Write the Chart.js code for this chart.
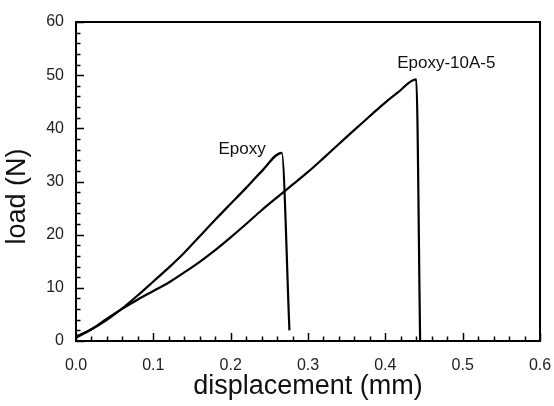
<!DOCTYPE html>
<html>
<head>
<meta charset="utf-8">
<script src="https://cdn.jsdelivr.net/npm/chart.js@4"></script>
<style>
  html, body { margin: 0; padding: 0; background: #fff; }
  #wrap { width: 554px; height: 406px; }
</style>
</head>
<body>
<div id="wrap"><canvas id="loadChart"></canvas></div>
<script>
// ============================== DATA ==============================
const epoxyX = [0, 0.02, 0.04, 0.057, 0.08, 0.10, 0.12, 0.14, 0.16, 0.18, 0.20, 0.22, 0.24, 0.266, 0.276];
const epoxyY = [0.8, 2.2, 4.0, 5.8, 8.6, 11.2, 13.8, 16.6, 19.7, 22.8, 25.8, 28.8, 31.9, 35.4, 2.0];

const epoxy10X = [0, 0.02, 0.04, 0.057, 0.08, 0.10, 0.12, 0.14, 0.16, 0.18, 0.20, 0.22, 0.24, 0.264, 0.28, 0.30, 0.32, 0.35, 0.37, 0.393, 0.415, 0.44, 0.445];
const epoxy10Y = [0.6, 2.2, 4.2, 5.8, 7.8, 9.4, 11.0, 12.9, 14.9, 17.1, 19.5, 22.0, 24.6, 27.5, 29.4, 31.8, 34.4, 38.4, 41.0, 44.0, 46.6, 49.2, 0];

const seriesNames = ["Epoxy", "Epoxy-10A-5"];
const xTitle = "displacement (mm)";
const yTitle = "load (N)";

const xMin = 0, xMax = 0.6, xMajor = 0.1, xMinor = 0.02;
const yMin = 0, yMax = 60, yMajor = 10, yMinor = 2;

const FONT = "'Liberation Sans', Helvetica, Arial, sans-serif";

function toPoints(xs, ys) {
    return xs.map((x, i) => ({ x: x, y: ys[i] }));
}

// ============================== PLUGINS ==============================
// inward tick marks + closed box + y title
const frameTicks = {
    id: "frameTicks",
    afterDatasetsDraw(chart) {
        const ctx = chart.ctx;
        const xs = chart.scales.x, ys = chart.scales.y;
        const a = chart.chartArea;
        ctx.save();
        ctx.strokeStyle = "#000";
        ctx.lineWidth = 2;
        ctx.strokeRect(a.left, a.top, a.right - a.left, a.bottom - a.top);
        ctx.lineWidth = 1.5;
        ctx.beginPath();
        const nx = Math.round((xMax - xMin) / xMinor);
        for (let i = 0; i <= nx; i++) {
            const v = xMin + i * xMinor;
            const px = Math.round(xs.getPixelForValue(v)) + 0.5;
            const len = (i % 5 === 0) ? 8 : 4.5;
            ctx.moveTo(px, a.bottom);
            ctx.lineTo(px, a.bottom - len);
        }
        const ny = Math.round((yMax - yMin) / yMinor);
        for (let i = 0; i <= ny; i++) {
            const v = yMin + i * yMinor;
            const py = Math.round(ys.getPixelForValue(v)) + 0.5;
            const len = (i % 5 === 0) ? 8 : 4.5;
            ctx.moveTo(a.left, py);
            ctx.lineTo(a.left + len, py);
        }
        ctx.stroke();

        // y axis title, sits a bit below the middle like the original
        ctx.translate(18, (a.top + a.bottom) / 2 + 15);
        ctx.rotate(-Math.PI / 2);
        ctx.fillStyle = "#111";
        ctx.font = "27px " + FONT;
        ctx.textAlign = "center";
        ctx.textBaseline = "middle";
        ctx.fillText(yTitle, 0, 0);
        ctx.restore();
    }
};

// series names placed next to each curve's peak
const peakLabels = {
    id: "peakLabels",
    afterDatasetsDraw(chart) {
        const ctx = chart.ctx;
        ctx.save();
        ctx.fillStyle = "#111";
        ctx.font = "17px " + FONT;
        ctx.textBaseline = "alphabetic";
        chart.data.datasets.forEach((ds, di) => {
            let peak = ds.data[0];
            ds.data.forEach(p => { if (p.y > peak.y) peak = p; });
            const px = chart.scales.x.getPixelForValue(peak.x);
            const py = chart.scales.y.getPixelForValue(peak.y);
            if (di === 0) {
                ctx.textAlign = "right";
                ctx.fillText(ds.label, px - 16, py + 1);
            } else {
                ctx.textAlign = "center";
                ctx.fillText(ds.label, px + 30, py - 11);
            }
        });
        ctx.restore();
    }
};

// ============================== CHART ==============================
window.addEventListener("DOMContentLoaded", () => {
    const ctx = document.getElementById("loadChart").getContext("2d");
    new Chart(ctx, {
        type: "scatter",
        data: {
            datasets: [
                { label: seriesNames[0], data: toPoints(epoxyX, epoxyY) },
                { label: seriesNames[1], data: toPoints(epoxy10X, epoxy10Y) }
            ].map(d => Object.assign(d, {
                showLine: true, borderColor: "#000", borderWidth: 2.2,
                pointRadius: 0, cubicInterpolationMode: "monotone", fill: false
            }))
        },
        options: {
            responsive: true,
            maintainAspectRatio: false,
            animation: false,
            layout: { padding: { top: 22, right: 14, left: 0, bottom: 0 } },
            plugins: { legend: { display: false }, tooltip: { enabled: false } },
            scales: {
                x: {
                    type: "linear", min: xMin, max: xMax,
                    grid: { display: false, drawTicks: false },
                    border: { display: false },
                    ticks: {
                        stepSize: xMajor, padding: 15, color: "#222",
                        font: { family: FONT, size: 16 },
                        callback: v => v.toFixed(1)
                    },
                    title: {
                        display: true, text: xTitle, color: "#111",
                        font: { family: FONT, size: 27 }, padding: { top: 0, bottom: 3 }
                    },
                    afterFit: s => { s.height = 65; s.paddingLeft = 0; s.paddingRight = 0; }
                },
                y: {
                    type: "linear", min: yMin, max: yMax,
                    grid: { display: false, drawTicks: false },
                    border: { display: false },
                    ticks: {
                        stepSize: yMajor, padding: 12, color: "#222",
                        font: { family: FONT, size: 16 }
                    },
                    title: { display: false },
                    afterFit: s => { s.width = 76; s.paddingTop = 0; s.paddingBottom = 0; }
                }
            }
        },
        plugins: [frameTicks, peakLabels]
    });
});
</script>
</body>
</html>
